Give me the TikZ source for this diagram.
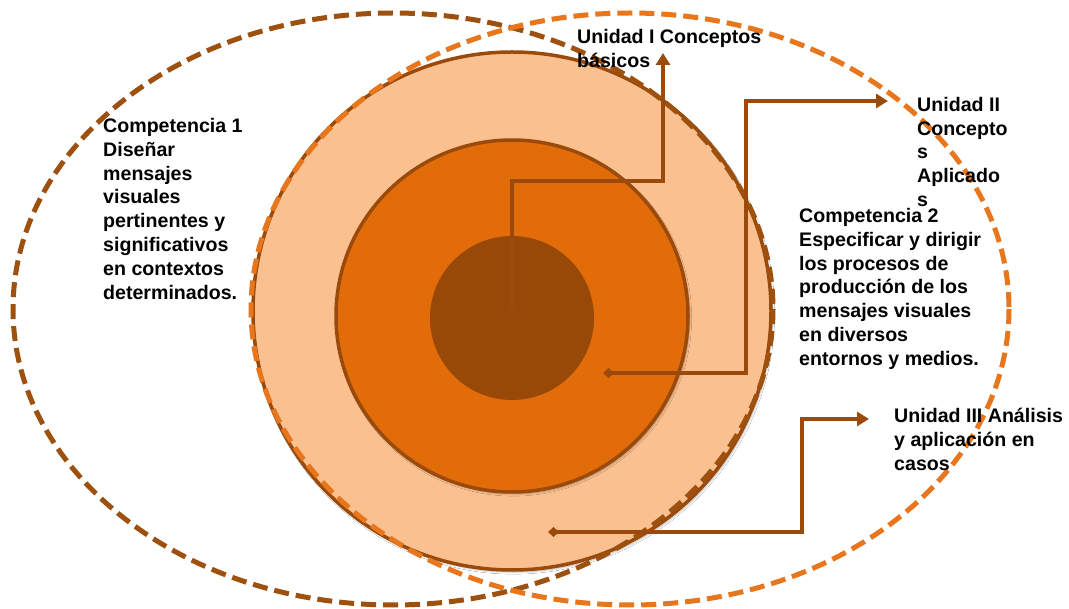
\documentclass[tikz,border=0pt]{standalone}
\usepackage{fontspec}
\setmainfont{Liberation Sans}
\usetikzlibrary{arrows.meta,shadows.blur}
\definecolor{peach}{HTML}{FAC090}
\definecolor{orangemid}{HTML}{E36C0A}
\definecolor{darkbrown}{HTML}{984807}
\definecolor{ringline}{HTML}{9A4A0A}
\definecolor{leftdash}{HTML}{9E500E}
\definecolor{rightdash}{HTML}{E8761C}
\begin{document}
\begin{tikzpicture}[x=1pt,y=-1pt,
  ring/.style={draw=ringline,line width=3.5pt,blur shadow={shadow blur steps=6,shadow xshift=1.5pt,shadow yshift=-2pt,shadow opacity=30}},
  dashring/.style={line width=5pt,dash pattern=on 15pt off 7pt},
  conn/.style={draw=ringline,line width=4pt,{Diamond[length=11pt,width=10pt]}-{Triangle[length=12pt,width=14pt]}},
  lbl/.style={anchor=north west,inner sep=0pt,align=left,font=\bfseries\fontsize{19.6}{23.8}\selectfont,text=black}]
\useasboundingbox (0,0) rectangle (1069,609);
\fill[white] (0,0) rectangle (1069,609);
% concentric circles
\fill[peach,ring] (512,311) circle[radius=259];
\fill[orangemid,ring] (512,316) circle[radius=176];
\fill[darkbrown] (512,318) circle[radius=82];
% dashed ellipses
\draw[leftdash,dashring] (393,309) ellipse[x radius=380,y radius=296];
\draw[rightdash,dashring] (630,309) ellipse[x radius=379,y radius=296];
% connector end points
\coordinate (s1) at (512,311);
\coordinate (m1) at (663,181);
\coordinate (e1) at (663,53);
\coordinate (s2) at (603,373);
\coordinate (m2) at (746,101);
\coordinate (e2) at (888,101);
\coordinate (s3) at (548,532);
\coordinate (m3) at (802,419);
\coordinate (e3) at (869,419);
\draw[conn] (s1) |- (m1) -- (e1);
\draw[conn] (s2) -| (m2) -- (e2);
\draw[conn] (s3) -| (m3) -- (e3);
% labels
\node[lbl] (c1) at (103,118) {Competencia 1\\Diseñar\\mensajes\\visuales\\pertinentes y\\significativos\\en contextos\\determinados.};
\node[lbl] (u1) at (577,29) {Unidad I Conceptos\\básicos};
\node[lbl] (u2) at (917,97) {Unidad II\\Concepto\\s\\Aplicado\\s};
\node[lbl] (c2) at (799,208) {Competencia 2\\Especificar y dirigir\\los procesos de\\producción de los\\mensajes visuales\\en diversos\\entornos y medios.};
\node[lbl] (u3) at (894,408) {Unidad III Análisis\\y aplicación en\\casos};
\end{tikzpicture}
\end{document}
